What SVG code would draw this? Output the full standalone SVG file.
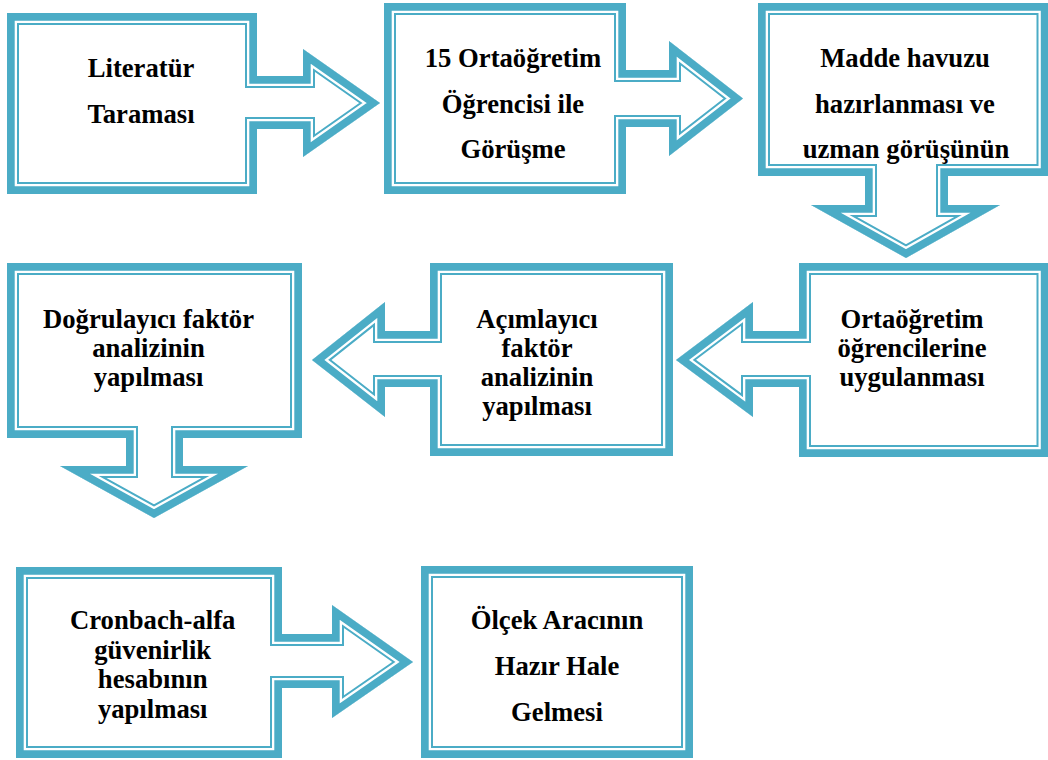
<svg xmlns="http://www.w3.org/2000/svg" xmlns:xlink="http://www.w3.org/1999/xlink" width="1048" height="760" viewBox="0 0 1048 760">
<style>
.bg{fill:#ffffff;stroke:none}
.b1{fill:none;stroke:#4BACC6;stroke-width:24;stroke-linejoin:miter;stroke-miterlimit:12}
.b2{fill:none;stroke:#ffffff;stroke-width:20;stroke-linejoin:miter;stroke-miterlimit:12}
.b3{fill:none;stroke:#4BACC6;stroke-width:15.4;stroke-linejoin:miter;stroke-miterlimit:12}
.t{font-family:"Liberation Serif","Times New Roman",serif;font-weight:bold;font-size:26.67px;fill:#000000;text-anchor:middle}
</style>
<defs>
<polygon id="s1" points="7,13 257,13 257,76 303,76 303,49 380,103 303,157 303,129 257,129 257,194 7,194"/>
<polygon id="s2" points="384,3 626,3 626,70 669,70 669,41 743,98.5 669,156 669,127 626,127 626,194 384,194"/>
<polygon id="s3" points="758,3 1048.5,3 1048.5,176 948,176 948,205 1000,205 906,258 811,205 865,205 865,176 758,176"/>
<polygon id="s4" points="7,263 302,263 302,438 183,438 183,466 248,466 154,518 60,466 126,466 126,438 7,438"/>
<polygon id="s5" points="430,263 673,263 673,456 430,456 430,387 385,387 385,417 312,360 385,302 385,331 430,331"/>
<polygon id="s6" points="799,263 1048.5,263 1048.5,457 799,457 799,387 753,387 753,417 676,360 753,302 753,331 799,331"/>
<polygon id="s7" points="16,567 282,567 282,634 332,634 332,605 413,662 332,718 332,688 282,688 282,758 16,758"/>
<polygon id="s8" points="421,566 693,566 693,758 421,758"/>
<clipPath id="c1"><use xlink:href="#s1"/></clipPath>
<clipPath id="c2"><use xlink:href="#s2"/></clipPath>
<clipPath id="c3"><use xlink:href="#s3"/></clipPath>
<clipPath id="c4"><use xlink:href="#s4"/></clipPath>
<clipPath id="c5"><use xlink:href="#s5"/></clipPath>
<clipPath id="c6"><use xlink:href="#s6"/></clipPath>
<clipPath id="c7"><use xlink:href="#s7"/></clipPath>
<clipPath id="c8"><use xlink:href="#s8"/></clipPath>
</defs>
<rect x="0" y="0" width="1048" height="760" fill="#ffffff"/>
<g id="connectors"></g>
<g id="node-1">
<use xlink:href="#s1" class="bg"/>
<g clip-path="url(#c1)"><use xlink:href="#s1" class="b1"/><use xlink:href="#s1" class="b2"/><use xlink:href="#s1" class="b3"/></g>
<text class="t" x="141" y="77">Literatür</text>
<text class="t" x="141" y="123">Taraması</text>
</g>
<g id="node-2">
<use xlink:href="#s2" class="bg"/>
<g clip-path="url(#c2)"><use xlink:href="#s2" class="b1"/><use xlink:href="#s2" class="b2"/><use xlink:href="#s2" class="b3"/></g>
<text class="t" x="513" y="67">15 Ortaöğretim</text>
<text class="t" x="513" y="113">Öğrencisi ile</text>
<text class="t" x="513" y="158">Görüşme</text>
</g>
<g id="node-3">
<use xlink:href="#s3" class="bg"/>
<g clip-path="url(#c3)"><use xlink:href="#s3" class="b1"/><use xlink:href="#s3" class="b2"/><use xlink:href="#s3" class="b3"/></g>
<text class="t" x="905" y="67">Madde havuzu</text>
<text class="t" x="905" y="113">hazırlanması ve</text>
<text class="t" x="906" y="158">uzman görüşünün</text>
</g>
<g id="node-4">
<use xlink:href="#s4" class="bg"/>
<g clip-path="url(#c4)"><use xlink:href="#s4" class="b1"/><use xlink:href="#s4" class="b2"/><use xlink:href="#s4" class="b3"/></g>
<text class="t" x="148.5" y="328">Doğrulayıcı faktör</text>
<text class="t" x="148.5" y="357">analizinin</text>
<text class="t" x="148.5" y="386">yapılması</text>
</g>
<g id="node-5">
<use xlink:href="#s5" class="bg"/>
<g clip-path="url(#c5)"><use xlink:href="#s5" class="b1"/><use xlink:href="#s5" class="b2"/><use xlink:href="#s5" class="b3"/></g>
<text class="t" x="537" y="328">Açımlayıcı</text>
<text class="t" x="537" y="357">faktör</text>
<text class="t" x="537" y="386">analizinin</text>
<text class="t" x="537" y="414.5">yapılması</text>
</g>
<g id="node-6">
<use xlink:href="#s6" class="bg"/>
<g clip-path="url(#c6)"><use xlink:href="#s6" class="b1"/><use xlink:href="#s6" class="b2"/><use xlink:href="#s6" class="b3"/></g>
<text class="t" x="912" y="328">Ortaöğretim</text>
<text class="t" x="912" y="357">öğrencilerine</text>
<text class="t" x="912" y="386">uygulanması</text>
</g>
<g id="node-7">
<use xlink:href="#s7" class="bg"/>
<g clip-path="url(#c7)"><use xlink:href="#s7" class="b1"/><use xlink:href="#s7" class="b2"/><use xlink:href="#s7" class="b3"/></g>
<text class="t" x="152.7" y="629">Cronbach-alfa</text>
<text class="t" x="152.7" y="658.5">güvenirlik</text>
<text class="t" x="152.7" y="688">hesabının</text>
<text class="t" x="152.7" y="717.5">yapılması</text>
</g>
<g id="node-8">
<use xlink:href="#s8" class="bg"/>
<g clip-path="url(#c8)"><use xlink:href="#s8" class="b1"/><use xlink:href="#s8" class="b2"/><use xlink:href="#s8" class="b3"/></g>
<text class="t" x="557" y="629">Ölçek Aracının</text>
<text class="t" x="557" y="675">Hazır Hale</text>
<text class="t" x="557" y="721">Gelmesi</text>
</g>
</svg>
